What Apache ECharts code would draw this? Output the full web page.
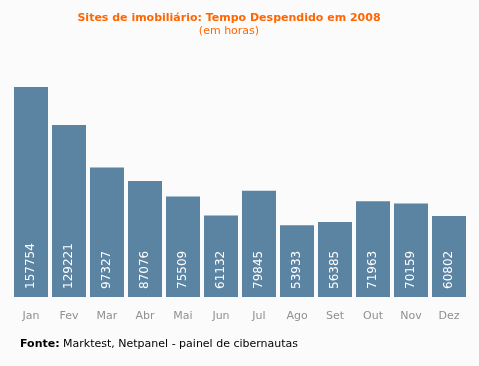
<!DOCTYPE html>
<html><head><meta charset="utf-8">
<script src="https://cdn.jsdelivr.net/npm/echarts@6/dist/echarts.min.js"></script>
<style>html,body{margin:0;padding:0;background:#fbfbfb}#c{width:479px;height:366px}</style>
</head><body><div id="c"></div>
<script>
var categories = ['Jan','Fev','Mar','Abr','Mai','Jun','Jul','Ago','Set','Out','Nov','Dez'];
var values = [157754,129221,97327,87076,75509,61132,79845,53933,56385,71963,70159,60802];
var titleText = 'Sites de imobiliário: Tempo Despendido em 2008';
var subtitleText = '(em horas)';
var sourceLabel = 'Fonte:';
var sourceText = ' Marktest, Netpanel - painel de cibernautas';

var chart = echarts.init(document.getElementById('c'), null, {renderer:'canvas'});
chart.setOption({
  backgroundColor:'#fbfbfb',
  animation:false,
  grid:{left:12, right:11, top:87, bottom:69},
  xAxis:{type:'category', data:categories,
    axisLine:{show:false}, axisTick:{show:false},
    axisLabel:{color:'#909090', fontSize:11, fontFamily:'DejaVu Sans', margin:14}},
  yAxis:{type:'value', min:0, max:157754, show:false, splitLine:{show:false}},
  series:[{type:'bar', data:values, barCategoryGap:'10.5%',
    itemStyle:{color:'#5b83a2'},
    label:{show:true, position:'insideBottom', rotate:90, align:'left', verticalAlign:'middle',
      distance:8, color:'#ffffff', fontSize:12, fontFamily:'DejaVu Sans'}}],
  graphic:[
    {type:'text', x:229, y:13, style:{text:titleText, fill:'#ff6600', font:'bold 11px "DejaVu Sans"', textAlign:'center', textVerticalAlign:'top'}},
    {type:'text', x:229, y:26, style:{text:subtitleText, fill:'#ff6600', font:'11px "DejaVu Sans"', textAlign:'center', textVerticalAlign:'top'}},
    {type:'text', left:20, top:339, style:{
      text:'{b|'+sourceLabel+'}{n|'+sourceText+'}',
      rich:{b:{fontWeight:'bold', fontSize:11, fontFamily:'DejaVu Sans', fill:'#000'},
            n:{fontSize:11, fontFamily:'DejaVu Sans', fill:'#000'}}}}
  ]
});
</script></body></html>
